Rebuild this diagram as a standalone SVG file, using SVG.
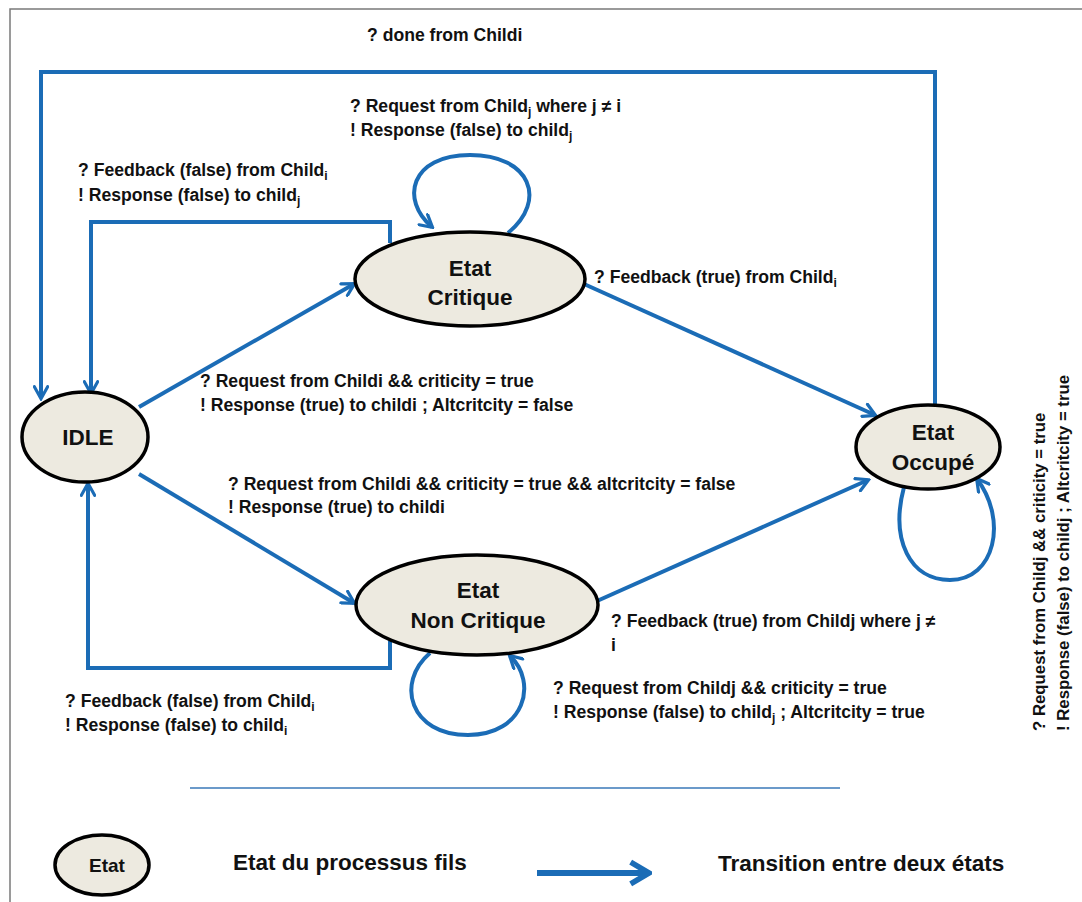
<svg xmlns="http://www.w3.org/2000/svg" width="1082" height="902" viewBox="0 0 1082 902">
<defs>
<marker id="arr" viewBox="0 0 12 12" markerWidth="16" markerHeight="16" refX="10" refY="6" orient="auto" markerUnits="userSpaceOnUse">
<path d="M1.5,1 L10.5,6 L1.5,11" fill="none" stroke="#1b6cb6" stroke-width="2.4" stroke-linecap="round" stroke-linejoin="miter"/>
</marker>
<marker id="arrBig" viewBox="0 0 12 12" markerWidth="26" markerHeight="30" refX="10" refY="6" orient="auto" markerUnits="userSpaceOnUse">
<path d="M2,1 L10.5,6 L2,11" fill="none" stroke="#1b6cb6" stroke-width="2.6"/>
</marker>
<style>
.node{fill:#edeae0;stroke:#000;stroke-width:3.5}
.nt{font-family:"Liberation Sans",Arial,sans-serif;font-weight:bold;font-size:22.5px;fill:#111;text-anchor:middle}
.lb{font-family:"Liberation Sans",Arial,sans-serif;font-weight:bold;font-size:17.6px;fill:#111}
.lv{font-family:"Liberation Sans",Arial,sans-serif;font-weight:bold;font-size:16.8px;fill:#111}
.lg{font-family:"Liberation Sans",Arial,sans-serif;font-weight:bold;font-size:22.5px;fill:#111}
.ca{fill:none;stroke:#1b6cb6;stroke-width:4;marker-end:url(#arr)}
</style>
</defs>
<rect width="1082" height="902" fill="#fff"/>
<path d="M10,902 V9 H1082" fill="none" stroke="#7a7a7a" stroke-width="1.5"/>

<g id="connectors">
<path class="ca" d="M935,406 V72 H41 V398"/>
<path class="ca" d="M390,243 V222 H91 V393"/>
<path class="ca" d="M139,407 L354,284"/>
<path class="ca" d="M508,233 C548,200 530,155 470,155 C410,155 400,200 432,227"/>
<path class="ca" d="M584,284 L875,415"/>
<path class="ca" d="M139,474 L354,603"/>
<path class="ca" d="M390,641 V668 H88 V484"/>
<path class="ca" d="M430,653 C395,683 410,735 468,735 C525,735 538,682 510,656"/>
<path class="ca" d="M597,601 L868,480"/>
<path class="ca" d="M904,487 C890,540 910,580 950,580 C995,580 1008,520 977,479"/>
</g>

<g id="idle">
<ellipse class="node" cx="85" cy="437" rx="63" ry="45"/>
<text class="nt" x="88" y="445">IDLE</text>
</g>
<g id="critique">
<ellipse class="node" cx="470" cy="279" rx="115" ry="47"/>
<text class="nt" x="470" y="276">Etat</text>
<text class="nt" x="470" y="305">Critique</text>
</g>
<g id="occupe">
<ellipse class="node" cx="928" cy="447" rx="72" ry="42"/>
<text class="nt" x="933" y="440">Etat</text>
<text class="nt" x="933" y="470">Occupé</text>
</g>
<g id="noncritique">
<ellipse class="node" cx="477" cy="605" rx="121" ry="50"/>
<text class="nt" x="478" y="598">Etat</text>
<text class="nt" x="478" y="628">Non Critique</text>
</g>

<g id="labels">
<text class="lb" x="367" y="41">? done from Childi</text>
<text class="lb" x="350" y="112">? Request from Child<tspan font-size="12" dy="4">j</tspan><tspan dy="-4"> where j ≠ i</tspan></text>
<text class="lb" x="350" y="136">! Response (false) to child<tspan font-size="12" dy="4">j</tspan></text>
<text class="lb" x="78" y="176">? Feedback (false) from Child<tspan font-size="12" dy="4">i</tspan></text>
<text class="lb" x="78" y="201">! Response (false) to child<tspan font-size="12" dy="4">j</tspan></text>
<text class="lb" x="594" y="283">? Feedback (true) from Child<tspan font-size="12" dy="4">i</tspan></text>
<text class="lb" x="200" y="387">? Request from Childi &amp;&amp; criticity = true</text>
<text class="lb" x="200" y="411">! Response (true) to childi ; Altcritcity = false</text>
<text class="lb" x="228" y="490">? Request from Childi &amp;&amp; criticity = true &amp;&amp; altcritcity = false</text>
<text class="lb" x="228" y="513">! Response (true) to childi</text>
<text class="lb" x="611" y="627">? Feedback (true) from Childj where j ≠</text>
<text class="lb" x="611" y="651">i</text>
<text class="lb" x="553" y="694">? Request from Childj &amp;&amp; criticity = true</text>
<text class="lb" x="553" y="718">! Response (false) to child<tspan font-size="12" dy="4">j</tspan><tspan dy="-4"> ; Altcritcity = true</tspan></text>
<text class="lb" x="65" y="707">? Feedback (false) from Child<tspan font-size="12" dy="4">i</tspan></text>
<text class="lb" x="65" y="731">! Response (false) to child<tspan font-size="12" dy="4">i</tspan></text>
<text class="lv" transform="translate(1045,731) rotate(-90)">? Request from Childj &amp;&amp; criticity = true</text>
<text class="lv" transform="translate(1069,731) rotate(-90)">! Response (false) to childj ; Altcritcity = true</text>
</g>

<line x1="190" y1="788" x2="840" y2="788" stroke="#3a78b8" stroke-width="1.5"/>

<g id="legend">
<ellipse class="node" cx="102" cy="865" rx="47" ry="30"/>
<text x="107" y="872" font-family="'Liberation Sans',Arial,sans-serif" font-weight="bold" font-size="19" text-anchor="middle" fill="#111">Etat</text>
<text class="lg" x="233" y="870">Etat du processus fils</text>
<line x1="537" y1="873" x2="648" y2="873" stroke="#1b6cb6" stroke-width="6" marker-end="url(#arrBig)"/>
<text class="lg" x="718" y="871">Transition entre deux états</text>
</g>
</svg>
